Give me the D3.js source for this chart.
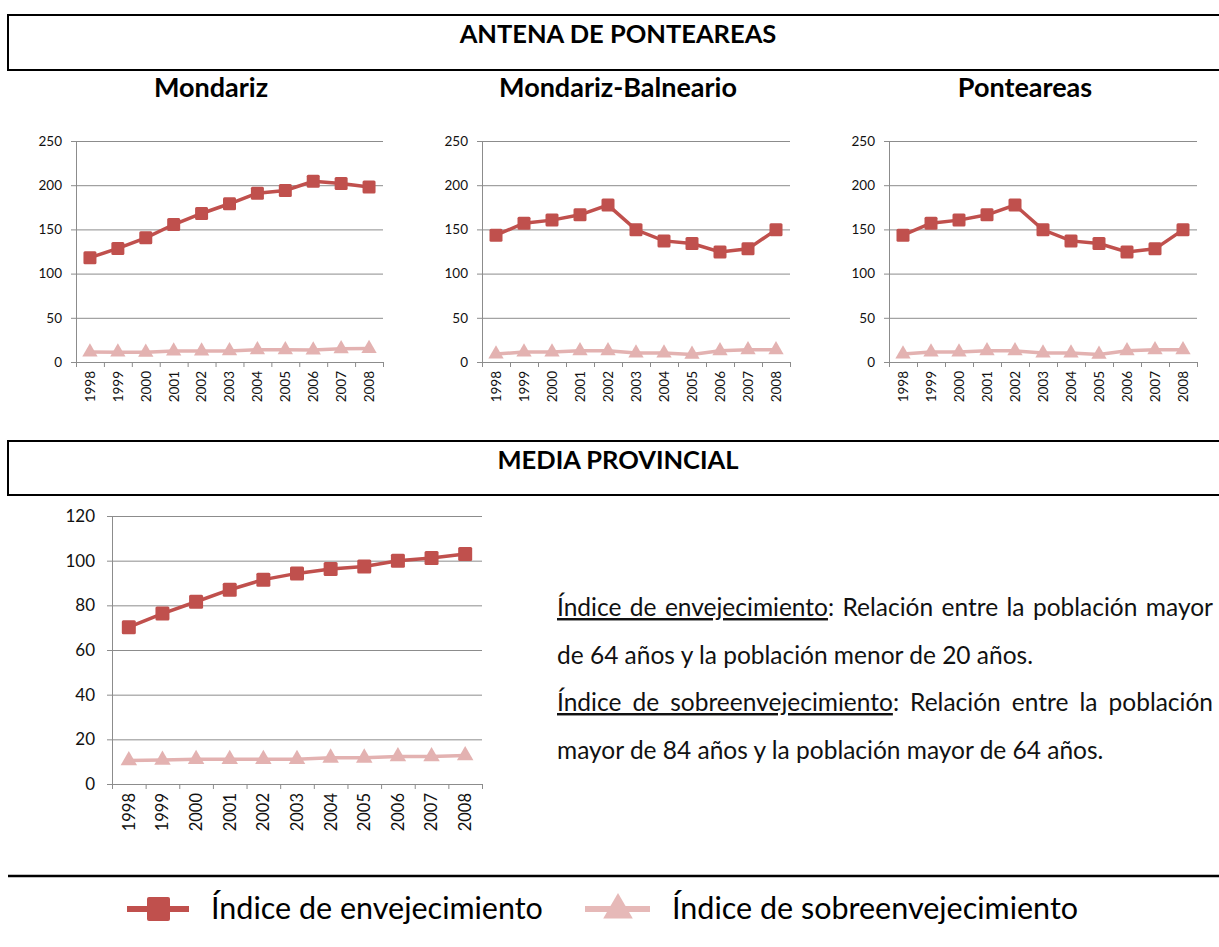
<!DOCTYPE html>
<html>
<head>
<meta charset="utf-8">
<script src="https://cdn.jsdelivr.net/npm/d3@7"></script>
<style>
  body { margin: 0; background: #fff; }
  svg { display: block; font-family: Lato, "Open Sans", sans-serif; }
</style>
</head>
<body>
<svg id="lamina" width="1219" height="947"></svg>
<script>

// Datos
const anyos = ['1998', '1999', '2000', '2001', '2002', '2003', '2004', '2005', '2006', '2007', '2008'];

const envMondariz = [118, 128.5, 140.5, 155.5, 168, 179, 191, 194, 204.5, 202, 198];
const sobreMondariz = [11.3, 11.1, 11.0, 12.4, 12.4, 12.5, 13.8, 13.8, 13.6, 15.0, 15.3];

const envBalneario = [143.5, 157, 160.5, 166.5, 177.5, 149.5, 137, 134, 124.5, 128, 149.5];
const sobreBalneario = [9.0, 11.3, 11.3, 12.6, 12.6, 10.2, 10.2, 8.6, 12.6, 13.9, 13.9];

const envPonteareas = [143.5, 157, 160.5, 166.5, 177.5, 149.5, 137, 134, 124.5, 128, 149.5];
const sobrePonteareas = [9.0, 11.3, 11.3, 12.6, 12.6, 10.2, 10.2, 8.6, 12.6, 13.9, 13.9];

const envProvincia = [70.2, 76.3, 81.6, 87.0, 91.5, 94.3, 96.3, 97.4, 100.0, 101.2, 103.0];
const sobreProvincia = [10.5, 10.7, 11.1, 11.1, 11.1, 11.1, 11.7, 11.7, 12.3, 12.3, 12.8];

const ticksMunicipio = [0, 50, 100, 150, 200, 250];
const ticksProvincia = [0, 20, 40, 60, 80, 100, 120];

const nombresSeries = ['Índice de envejecimiento', 'Índice de sobreenvejecimiento'];

// Colores
const rojo = '#C0504D', rosa = '#E3B2B1', gris = '#8C8C8C';

const svg = d3.select('#lamina');

//Cajas de cabecera
function cabecera(y, h, texto) {
    svg.append('rect')
        .attr('x', 8).attr('y', y)
        .attr('width', 1230).attr('height', h)
        .attr('fill', 'none').attr('stroke', '#000').attr('stroke-width', 2);
    svg.append('text')
        .attr('x', 618).attr('y', y + 28)
        .attr('text-anchor', 'middle')
        .attr('font-size', 25.5).attr('font-weight', 'bold')
        .text(texto);
}

cabecera(15, 55, 'ANTENA DE PONTEAREAS');
cabecera(441, 54, 'MEDIA PROVINCIAL');

//Grafico de lineas
function grafico(cfg) {
    const g = svg.append('g');

    const x = d3.scaleBand().domain(anyos).range([cfg.x0, cfg.x1]);
    const xLin = d3.scaleLinear().domain([0, anyos.length]).range([cfg.x0, cfg.x1]);
    const y = d3.scaleLinear().domain([0, d3.max(cfg.ticks)]).range([cfg.yb, cfg.yt]);

    //Eje Y
    g.append('g')
        .attr('transform', 'translate(' + cfg.x0 + ',0)')
        .call(d3.axisLeft(y).tickValues(cfg.ticks).tickSize(5).tickPadding(cfg.pad))
        .call((a) => a.select('.domain').attr('stroke', gris))
        .call((a) => a.selectAll('.tick line').attr('stroke', gris))
        .call((a) => a.selectAll('.tick text')
            .attr('font-family', 'Lato, sans-serif')
            .attr('font-size', cfg.fs).attr('fill', '#111'));

    //Rejilla
    g.append('g')
        .selectAll('line')
        .data(cfg.ticks.filter((t) => t > 0))
        .enter()
        .append('line')
        .attr('x1', cfg.x0).attr('x2', cfg.x1)
        .attr('y1', (d) => y(d) + 0.5).attr('y2', (d) => y(d) + 0.5)
        .attr('stroke', gris).attr('stroke-width', 1);

    //Eje X (marcas entre categorias)
    g.append('g')
        .attr('transform', 'translate(0,' + cfg.yb + ')')
        .call(d3.axisBottom(xLin).tickValues(d3.range(anyos.length + 1)).tickFormat('').tickSize(5))
        .call((a) => a.select('.domain').attr('stroke', gris))
        .call((a) => a.selectAll('.tick line').attr('stroke', gris));

    //Etiquetas de anyos
    g.append('g')
        .selectAll('text')
        .data(anyos)
        .enter()
        .append('text')
        .attr('transform', (d) => 'translate(' + (x(d) + x.bandwidth() / 2 + cfg.fsx * 0.36) + ',' + (cfg.yb + 9) + ') rotate(-90)')
        .attr('text-anchor', 'end')
        .attr('font-size', cfg.fsx).attr('fill', '#111')
        .text((d) => d);

    const linea = d3.line()
        .x((d, i) => x(anyos[i]) + x.bandwidth() / 2)
        .y((d) => y(d));

    //Sobreenvejecimiento
    g.append('path')
        .attr('d', linea(cfg.sobre))
        .attr('fill', 'none').attr('stroke', rosa).attr('stroke-width', cfg.lw);
    g.selectAll('.tri')
        .data(cfg.sobre)
        .enter()
        .append('path')
        .attr('class', 'tri')
        .attr('d', d3.symbol().type(d3.symbolTriangle).size(cfg.ms * cfg.ms * 0.6))
        .attr('transform', (d, i) => 'translate(' + (x(anyos[i]) + x.bandwidth() / 2) + ',' + y(d) + ')')
        .attr('fill', rosa);

    //Envejecimiento
    g.append('path')
        .attr('d', linea(cfg.env))
        .attr('fill', 'none').attr('stroke', rojo).attr('stroke-width', cfg.lw);
    g.selectAll('.cuad')
        .data(cfg.env)
        .enter()
        .append('rect')
        .attr('class', 'cuad')
        .attr('x', (d, i) => x(anyos[i]) + x.bandwidth() / 2 - cfg.ms / 2)
        .attr('y', (d) => y(d) - cfg.ms / 2)
        .attr('width', cfg.ms).attr('height', cfg.ms)
        .attr('rx', 1.5)
        .attr('fill', rojo);

    if (cfg.titulo) {
        svg.append('text')
            .attr('x', cfg.tx).attr('y', 97)
            .attr('text-anchor', 'middle')
            .attr('font-size', 27).attr('font-weight', 'bold')
            .text(cfg.titulo);
    }
}

grafico({ titulo: 'Mondariz', tx: 211, x0: 76, x1: 383, yt: 141, yb: 362, ticks: ticksMunicipio, env: envMondariz, sobre: sobreMondariz, fs: 13.5, fsx: 13.5, pad: 9, lw: 3.5, ms: 13 });
grafico({ titulo: 'Mondariz-Balneario', tx: 618, x0: 482, x1: 790, yt: 141, yb: 362, ticks: ticksMunicipio, env: envBalneario, sobre: sobreBalneario, fs: 13.5, fsx: 13.5, pad: 9, lw: 3.5, ms: 13 });
grafico({ titulo: 'Ponteareas', tx: 1025, x0: 889, x1: 1197, yt: 141, yb: 362, ticks: ticksMunicipio, env: envPonteareas, sobre: sobrePonteareas, fs: 13.5, fsx: 13.5, pad: 9, lw: 3.5, ms: 13 });
grafico({ x0: 112, x1: 482, yt: 516, yb: 784, ticks: ticksProvincia, env: envProvincia, sobre: sobreProvincia, fs: 17, fsx: 16.5, pad: 12, lw: 3.5, ms: 14 });

//Texto explicativo
const lineas = [
    { sub: 'Índice de envejecimiento', resto: ': Relación entre la población mayor', just: true },
    { sub: '', resto: 'de 64 años y la población menor de 20 años.', just: false },
    { sub: 'Índice de sobreenvejecimiento', resto: ': Relación entre la población', just: true },
    { sub: '', resto: 'mayor de 84 años y la población mayor de 64 años.', just: false }
];

lineas.forEach((l, i) => {
    const t = svg.append('text')
        .attr('x', 557).attr('y', 616 + i * 47.5)
        .attr('font-size', 24.5).attr('fill', '#111');
    if (l.sub) t.append('tspan').attr('text-decoration', 'underline').text(l.sub);
    t.append('tspan').text(l.resto);
    if (l.just) {
        const largo = t.node().getComputedTextLength();
        const espacios = (l.sub + l.resto).split(' ').length - 1;
        t.attr('word-spacing', (1213 - 557 - largo) / espacios);
    }
});

//Linea separadora
svg.append('line')
    .attr('x1', 8).attr('x2', 1219)
    .attr('y1', 876).attr('y2', 876)
    .attr('stroke', '#000').attr('stroke-width', 2.5);

//Leyenda
const ley = svg.append('g');

ley.append('line').attr('x1', 127).attr('x2', 189).attr('y1', 909).attr('y2', 909)
    .attr('stroke', rojo).attr('stroke-width', 6);
ley.append('rect').attr('x', 147).attr('y', 897).attr('width', 23).attr('height', 24).attr('rx', 2)
    .attr('fill', rojo);
ley.append('text').attr('x', 211).attr('y', 919).attr('font-size', 30.5).text(nombresSeries[0]);

ley.append('line').attr('x1', 585).attr('x2', 650).attr('y1', 909).attr('y2', 909)
    .attr('stroke', '#E6B9B8').attr('stroke-width', 6);
ley.append('path')
    .attr('d', d3.symbol().type(d3.symbolTriangle).size(380))
    .attr('transform', 'translate(618,910)')
    .attr('fill', '#E6B9B8');
ley.append('text').attr('x', 672).attr('y', 919).attr('font-size', 30.5).text(nombresSeries[1]);

</script>
</body>
</html>
